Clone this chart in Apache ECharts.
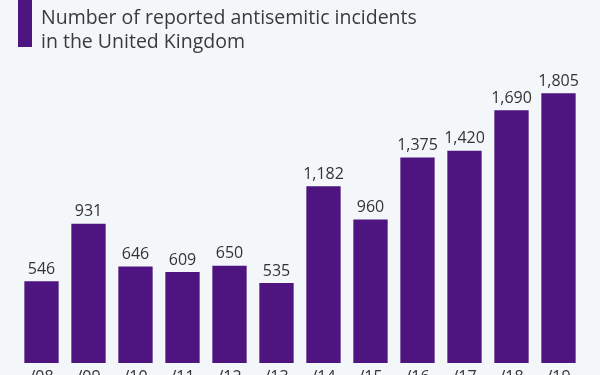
<!DOCTYPE html>
<html>
<head>
<meta charset="utf-8">
<script src="https://cdn.jsdelivr.net/npm/echarts@6/dist/echarts.min.js"></script>
<style>
  html, body { margin: 0; padding: 0; background: #f4f7fa; }
  #chart { width: 600px; height: 375px; }
</style>
</head>
<body>
<div id="chart"></div>
<script>
// fiscal years (only the tail of each label is visible in the picture)
var years = ["/08", "/09", "/10", "/11", "/12", "/13", "/14", "/15", "/16", "/17", "/18", "/19"];
var incidents = [546, 931, 646, 609, 650, 535, 1182, 960, 1375, 1420, 1690, 1805];

var chart = echarts.init(document.getElementById('chart'), null, {renderer: 'canvas'});
var option = {
    animation: false,
    backgroundColor: "#f4f7fa",
    color: ["#4e1580"],
    title: {
        text: "Number of reported antisemitic incidents\nin the United Kingdom",
        left: 36,
        top: 1,
        textStyle: {
            fontFamily: "Open Sans",
            fontSize: 19.5,
            fontWeight: "normal",
            lineHeight: 24,
            color: "#3a3a3a"
        }
    },
    graphic: [
        {
            type: "rect",
            shape: {x: 18, y: 0, width: 14, height: 47},
            style: {fill: "#4e1580"}
        }
    ],
    grid: {left: 18, right: 18, top: 64, bottom: 12, outerBoundsMode: "none"},
    xAxis: {
        type: "category",
        data: years,
        axisLine: {show: false},
        axisTick: {show: false},
        axisLabel: {
            margin: 6,
            fontFamily: "Open Sans",
            fontSize: 16,
            color: "#333333"
        }
    },
    yAxis: {
        type: "value",
        min: 0,
        max: 2000,
        show: false,
        splitLine: {show: false}
    },
    series: [
        {
            type: "bar",
            data: incidents,
            barCategoryGap: "27%",
            label: {
                show: true,
                position: "top",
                distance: 4,
                fontFamily: "Open Sans",
                fontSize: 16,
                color: "#333333",
                formatter: function (p) {
                    return p.value.toLocaleString("en-US");
                }
            }
        }
    ]
};
chart.setOption(option);
</script>
</body>
</html>
